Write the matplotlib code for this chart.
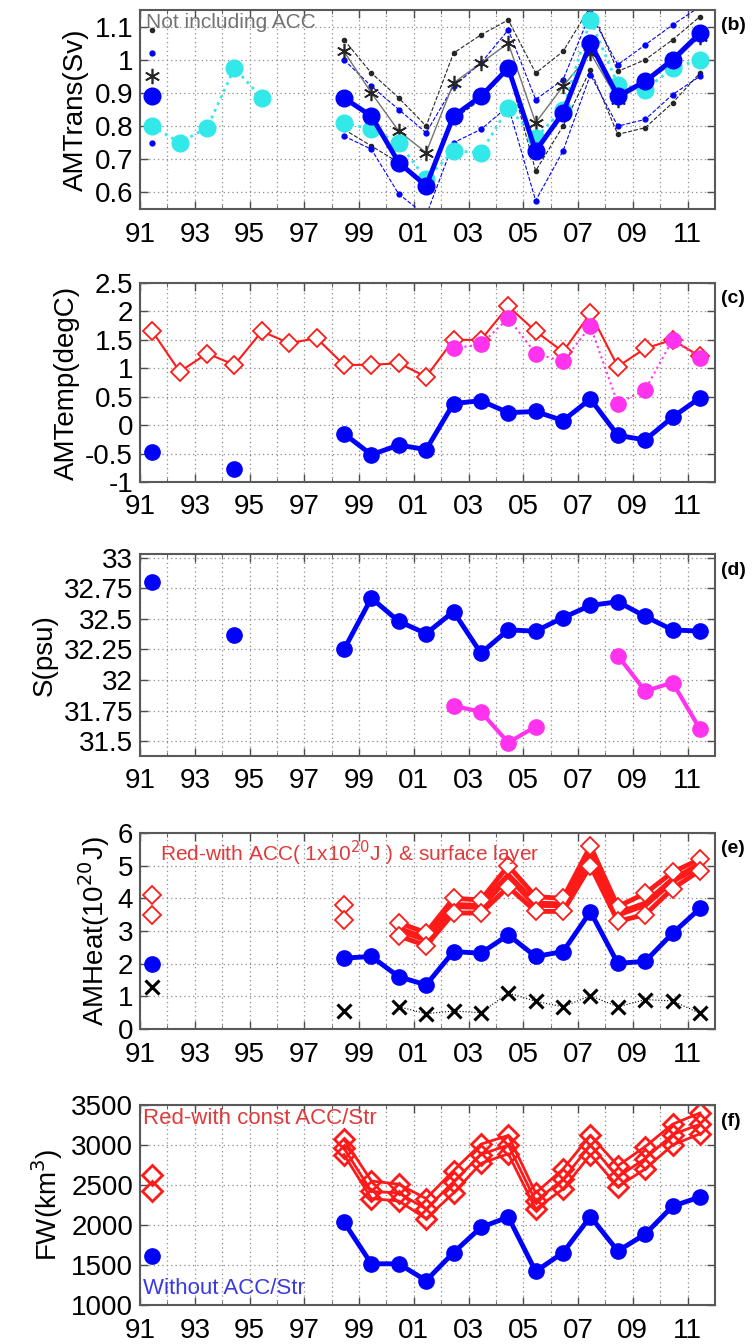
import numpy as np
import matplotlib.pyplot as plt
from matplotlib.ticker import MultipleLocator, FuncFormatter

plt.rcParams['font.family'] = ['Liberation Sans', 'DejaVu Sans']
plt.rcParams['axes.unicode_minus'] = False

nan = np.nan

# survey years 1991..2011, sampled a little before mid-year
years = np.array([1991, 1992, 1993, 1994, 1995, 1996, 1997, 1998, 1999, 2000,
                  2001, 2002, 2003, 2004, 2005, 2006, 2007, 2008, 2009, 2010, 2011])
x = years + 0.45
tick_years = [1991, 1993, 1995, 1997, 1999, 2001, 2003, 2005, 2007, 2009, 2011]

# (b) AMTrans (Sv)
b_main = [0.89, nan, nan, nan, nan, nan, nan, 0.885, 0.83, 0.69, 0.62, 0.83, 0.89,
          0.975, 0.725, 0.84, 1.05, 0.89, 0.935, 1.00, 1.08]
b_cyan = [0.80, 0.75, 0.795, 0.975, 0.885, nan, nan, 0.81, 0.79, 0.75, 0.64, 0.725,
          0.72, 0.855, 0.765, 0.85, 1.12, 0.925, 0.91, 0.975, 1.00]
b_star = [0.95, nan, nan, nan, nan, nan, nan, 1.025, 0.90, 0.785, 0.72, 0.93, 0.99,
          1.05, 0.81, 0.92, 1.02, 0.88, 0.93, 0.99, 1.07]
b_bup = [1.02, nan, nan, nan, nan, nan, nan, 1.00, 0.92, 0.85, 0.78, 0.92, 0.99,
         1.09, 0.88, 0.94, 1.14, 0.985, 1.045, 1.105, 1.16]
b_blo = [0.75, nan, nan, nan, nan, nan, nan, 0.77, 0.73, 0.595, 0.53, 0.75, 0.79,
         0.86, 0.575, 0.725, 0.955, 0.80, 0.82, 0.895, 0.95]
b_kup = [1.09, nan, nan, nan, nan, nan, nan, 1.06, 0.96, 0.885, 0.80, 1.02, 1.075,
         1.12, 0.96, 1.025, 1.16, 0.965, 1.00, 1.06, 1.13]
b_klo = [0.81, nan, nan, nan, nan, nan, nan, 0.79, 0.74, 0.69, 0.63, 0.82, 0.88,
         0.97, 0.665, 0.80, 0.97, 0.775, 0.795, 0.87, 0.96]

# (c) AMTemp (degC)
c_red = [1.65, 0.94, 1.26, 1.06, 1.65, 1.44, 1.53, 1.06, 1.06, 1.09, 0.85, 1.50,
         1.50, 2.09, 1.65, 1.29, 1.97, 1.03, 1.35, 1.50, 1.21]
c_mag = [nan, nan, nan, nan, nan, nan, nan, nan, nan, nan, nan, 1.35, 1.42, 1.88,
         1.26, 1.12, 1.74, 0.38, 0.62, 1.50, 1.18]
c_blue = [-0.47, nan, nan, -0.78, nan, nan, nan, -0.15, -0.52, -0.35, -0.43, 0.38,
          0.43, 0.22, 0.24, 0.08, 0.46, -0.18, -0.26, 0.14, 0.48]

# (d) S (psu)
d_blue = [32.80, nan, nan, 32.37, nan, nan, nan, 32.25, 32.67, 32.48, 32.38, 32.56,
          32.22, 32.41, 32.40, 32.51, 32.61, 32.64, 32.52, 32.41, 32.40]
d_mag = [nan, nan, nan, nan, nan, nan, nan, nan, nan, nan, nan, 31.79, 31.74, 31.49,
         31.62, nan, nan, 32.20, 31.91, 31.98, 31.60]

# (e) AMHeat (1e20 J)
e_blue = [2.0, nan, nan, nan, nan, nan, nan, 2.17, 2.22, 1.6, 1.35, 2.37, 2.32, 2.88,
          2.22, 2.37, 3.59, 2.01, 2.07, 2.93, 3.69]
e_red_hi = [4.1, nan, nan, nan, nan, nan, nan, 3.8, nan, 3.25, 2.95, 4.0, 3.95, 5.0,
            4.05, 4.0, 5.6, 3.75, 4.15, 4.8, 5.2]
e_red_mid = [nan, nan, nan, nan, nan, nan, nan, 3.55, nan, 3.05, 2.75, 3.78, 3.75,
             4.68, 3.82, 3.8, 5.3, 3.52, 3.82, 4.55, 5.02]
e_red_lo = [3.5, nan, nan, nan, nan, nan, nan, 3.35, nan, 2.85, 2.55, 3.55, 3.55, 4.35,
            3.6, 3.6, 5.0, 3.3, 3.5, 4.3, 4.85]
e_x = [1.3, nan, nan, nan, nan, nan, nan, 0.55, nan, 0.68, 0.47, 0.55, 0.5, 1.1,
       0.85, 0.68, 1.02, 0.68, 0.9, 0.86, 0.48]

# (f) FW (km3)
f_blue = [1610, nan, nan, nan, nan, nan, nan, 2035, 1515, 1515, 1305, 1655, 1970,
          2100, 1420, 1655, 2105, 1675, 1885, 2235, 2350]
f_red_hi = [2620, nan, nan, nan, nan, nan, nan, 3070, 2550, 2510, 2330, 2680, 3010,
            3120, 2400, 2700, 3120, 2740, 2980, 3260, 3400]
f_red_mid = [nan, nan, nan, nan, nan, nan, nan, 2960, 2420, 2400, 2200, 2540, 2880,
             3000, 2300, 2570, 3000, 2600, 2830, 3130, 3260]
f_red_lo = [2420, nan, nan, nan, nan, nan, nan, 2880, 2330, 2300, 2080, 2400, 2770,
            2890, 2200, 2450, 2880, 2480, 2700, 3000, 3140]

BLUE = '#0000ff'
RED = '#ff1a1a'
CYAN = '#33e8e8'
MAG = '#ff33ee'


def style(ax, ylim, yticks, label, tag):
    ax.set_xlim(1991, 2012)
    ax.set_ylim(*ylim)
    ax.set_yticks(yticks)
    ax.yaxis.set_major_formatter(FuncFormatter(lambda v, p: '%g' % v))
    ax.set_xticks(tick_years)
    ax.xaxis.set_minor_locator(MultipleLocator(1))
    ax.xaxis.set_major_formatter(FuncFormatter(lambda v, p: '%02d' % (int(round(v)) % 100)))
    ax.tick_params(direction='in', top=True, right=True, labelsize=20, length=6,
                   width=1, color='0.3')
    ax.tick_params(axis='x', pad=9)
    ax.tick_params(axis='y', pad=5)
    ax.tick_params(which='minor', direction='in', top=True, length=3, color='0.3')
    ax.grid(True, which='major', ls=(0, (1, 2.5)), color='0.55', lw=0.9)
    ax.grid(True, which='minor', axis='x', ls=(0, (1, 2.5)), color='0.55', lw=0.9)
    ax.set_axisbelow(True)
    ax.set_ylabel(label, fontsize=20)
    ax.text(1.01, 0.92, tag, transform=ax.transAxes, fontsize=14,
            fontweight='bold', va='center', ha='left')
    for s in ax.spines.values():
        s.set_color('0.35')
        s.set_linewidth(1.5)


fig = plt.figure(figsize=(7.52, 13.44), dpi=100)
L, W = 140 / 752, 575 / 752
H = 1344


def axes_at(top, bottom):
    return fig.add_axes([L, 1 - bottom / H, W, (bottom - top) / H])


# (b)
ax = axes_at(10, 209)
for s in (b_kup, b_klo):
    ax.plot(x, s, ls='--', color='0.15', lw=0.8, marker='o', ms=3)
for s in (b_bup, b_blo):
    ax.plot(x, s, ls='--', color=BLUE, lw=0.8, marker='o', ms=3.5)
ax.plot(x, b_star, color='0.45', lw=1, marker=(6, 2, 0), ms=11, mec='0.15', mew=1.2)
ax.plot(x, b_cyan, ls=':', color=CYAN, lw=2, marker='o', ms=12)
ax.plot(x, b_main, color=BLUE, lw=3.5, marker='o', ms=12)
ax.text(0.01, 0.985, 'Not including ACC', transform=ax.transAxes, fontsize=15,
        color='0.45', va='top', ha='left')
style(ax, (0.55, 1.15), [0.6, 0.7, 0.8, 0.9, 1.0, 1.1], 'AMTrans(Sv)', '(b)')

# (c)
ax = axes_at(283, 482)
ax.plot(x, c_red, color=RED, lw=1.5, marker='D', ms=9, mfc='white', mec=RED, mew=1.3)
ax.plot(x, c_mag, ls=':', color=MAG, lw=1.5, marker='o', ms=11)
ax.plot(x, c_blue, color=BLUE, lw=3.5, marker='o', ms=11)
style(ax, (-1, 2.5), [-1, -0.5, 0, 0.5, 1, 1.5, 2, 2.5], 'AMTemp(degC)', '(c)')

# (d)
ax = axes_at(554, 756)
ax.plot(x, d_blue, color=BLUE, lw=3.5, marker='o', ms=11)
ax.plot(x, d_mag, color=MAG, lw=3, marker='o', ms=11)
style(ax, (31.38, 33.03), [31.5, 31.75, 32, 32.25, 32.5, 32.75, 33], 'S(psu)', '(d)')

# (e)
ax = axes_at(833, 1029)
ax.plot(x, e_x, ls=':', color='k', lw=0.8, marker='x', ms=10, mew=2.2)
ax.plot(x, e_red_mid, color=RED, lw=5)
for s in (e_red_hi, e_red_lo):
    ax.plot(x, s, color=RED, lw=3.5, marker='D', ms=9, mfc='white', mec=RED, mew=1.3)
ax.plot(x, e_blue, color=BLUE, lw=3.5, marker='o', ms=11)
ax.text(0.035, 0.97, 'Red-with ACC( 1x10$^{20}$J ) & surface layer',
        transform=ax.transAxes, fontsize=15, color='#e03a3a', va='top', ha='left')
style(ax, (0, 6), [0, 1, 2, 3, 4, 5, 6], 'AMHeat(10$^{20}$J)', '(e)')

# (f)
ax = axes_at(1105, 1305)
for s in (f_red_hi, f_red_mid, f_red_lo):
    ax.plot(x, s, color=RED, lw=2, marker='D', ms=10, mfc='none', mec=RED, mew=2)
ax.plot(x, f_blue, color=BLUE, lw=3.5, marker='o', ms=11)
ax.text(0.005, 0.985, 'Red-with const ACC/Str', transform=ax.transAxes, fontsize=16,
        color='#e03a3a', va='top', ha='left')
ax.text(0.005, 0.03, 'Without ACC/Str', transform=ax.transAxes, fontsize=16,
        color='#3a3ae0', va='bottom', ha='left')
style(ax, (1000, 3500), [1000, 1500, 2000, 2500, 3000, 3500], 'FW(km$^3$)', '(f)')

fig.savefig('out.png', dpi=100)
